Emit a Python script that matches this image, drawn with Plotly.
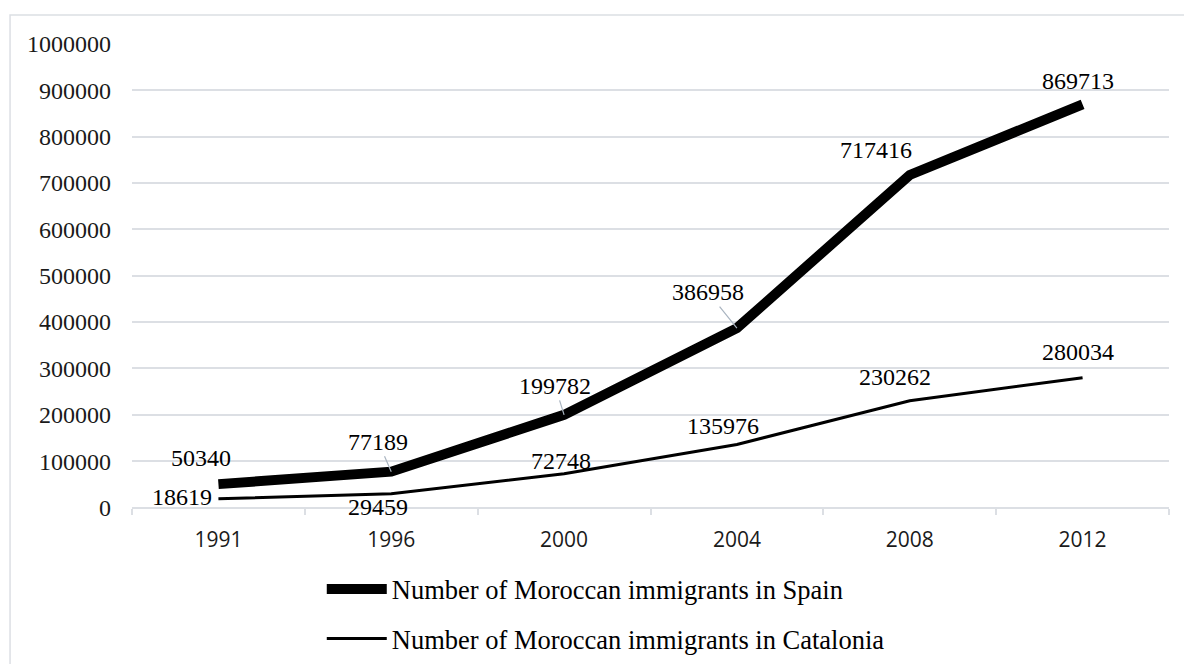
import plotly.graph_objects as go

years = ["1991", "1996", "2000", "2004", "2008", "2012"]
spain = [50340, 77189, 199782, 386958, 717416, 869713]
catalonia = [18619, 29459, 72748, 135976, 230262, 280034]
spain_name = "Number of Moroccan immigrants in Spain"
catalonia_name = "Number of Moroccan immigrants in Catalonia"
y_ticks = list(range(0, 1000001, 100000))

# label placement offsets in pixels (dx, dy screen-down) and whether a leader line is drawn
spain_off = [(-17, -26, False), (-13, -30, True), (-9, -29, True), (-29, -36, True), (-34, -25, False), (-5, -23, False)]
cat_off = [(-36, -2, False), (-13, 13, False), (-3, -13, False), (-14, -18, False), (-15, -24, False), (-5, -26, False)]

SERIF = "Liberation Serif, Times New Roman, serif"
GRID = "#dcdfe4"

fig = go.Figure()
fig.add_trace(go.Scatter(x=years, y=spain, mode="lines", name=spain_name,
                         line=dict(color="black", width=10), legendgroup="a"))
fig.add_trace(go.Scatter(x=years, y=catalonia, mode="lines", name=catalonia_name,
                         line=dict(color="black", width=3), legendgroup="b"))

annotations = []
for vals, offs in ((spain, spain_off), (catalonia, cat_off)):
    for i, (v, (dx, dy, lead)) in enumerate(zip(vals, offs)):
        if lead:
            annotations.append(dict(x=i, y=v, xref="x", yref="y", text=str(v),
                                    showarrow=True, arrowhead=0, arrowwidth=1.2,
                                    arrowcolor="#a9b4c0", ax=dx, ay=dy, standoff=0,
                                    font=dict(family=SERIF, size=24, color="black")))
        else:
            annotations.append(dict(x=i, y=v, xref="x", yref="y", text=str(v),
                                    showarrow=False, xshift=dx, yshift=-dy,
                                    font=dict(family=SERIF, size=24, color="black")))

fig.update_layout(
    width=1184, height=664,
    margin=dict(l=132, r=15, t=44, b=155),
    paper_bgcolor="white", plot_bgcolor="white",
    annotations=annotations,
    showlegend=True,
    legend=dict(orientation="v", x=0.183, xanchor="left",
                yref="container", y=0.1485, yanchor="top",
                font=dict(family=SERIF, size=26.5, color="black"),
                itemwidth=60, tracegroupgap=12, bgcolor="rgba(0,0,0,0)"),
    shapes=[dict(type="rect", xref="paper", yref="paper",
                 x0=-0.1176, x1=1.03, y0=-0.4, y1=1.0625,
                 line=dict(color=GRID, width=1.5), layer="below")],
)
fig.update_xaxes(type="category", range=[-0.5, 5.5], tickson="boundaries",
                 ticks="outside", ticklen=6, tickcolor=GRID, tickwidth=1.5,
                 showline=True, linecolor=GRID, linewidth=1.5, showgrid=False,
                 tickfont=dict(family="Open Sans, sans-serif", size=21, color="#1a1a1a"),
                 ticklabelstandoff=13)
fig.update_yaxes(range=[0, 1000000], tickvals=y_ticks, ticktext=[str(t) for t in y_ticks],
                 showgrid=True, gridcolor=GRID, gridwidth=1.5, zeroline=False,
                 showline=False, ticks="",
                 tickfont=dict(family=SERIF, size=24, color="#1a1a1a"),
                 ticklabelstandoff=20)

fig.write_html("out.html")
